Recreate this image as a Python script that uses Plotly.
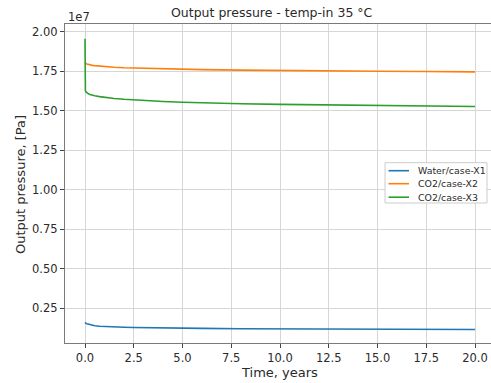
import plotly.graph_objects as go

# ---- data ----
time_years = [0, 0.005, 0.02, 0.05, 0.1, 0.175, 0.25, 0.375, 0.5, 0.75, 1, 1.25, 1.5,
              2, 2.5, 3, 4, 5, 6, 8, 10, 12.5, 15, 17.5, 20]

water_x1 = [0.160e7, 0.159e7, 0.157e7, 0.154e7, 0.151e7, 0.148e7, 0.145e7, 0.142e7, 0.139e7,
            0.136e7, 0.134e7, 0.1325e7, 0.131e7, 0.129e7, 0.1275e7, 0.126e7, 0.124e7, 0.123e7,
            0.122e7, 0.120e7, 0.119e7, 0.118e7, 0.117e7, 0.116e7, 0.115e7]
co2_x2 = [1.808e7, 1.805e7, 1.801e7, 1.798e7, 1.795e7, 1.792e7, 1.790e7, 1.787e7, 1.785e7,
          1.782e7, 1.779e7, 1.777e7, 1.775e7, 1.772e7, 1.770e7, 1.768e7, 1.765e7, 1.762e7,
          1.760e7, 1.757e7, 1.754e7, 1.752e7, 1.750e7, 1.748e7, 1.746e7]
co2_x3 = [1.955e7, 1.635e7, 1.626e7, 1.619e7, 1.612e7, 1.607e7, 1.603e7, 1.598e7, 1.594e7,
          1.589e7, 1.584e7, 1.580e7, 1.577e7, 1.572e7, 1.568e7, 1.564e7, 1.558e7, 1.553e7,
          1.549e7, 1.544e7, 1.540e7, 1.536e7, 1.533e7, 1.530e7, 1.527e7]

series_names = ["Water/case-X1", "CO2/case-X2", "CO2/case-X3"]
series_values = [water_x1, co2_x2, co2_x3]
series_colors = ["#1f77b4", "#ff7f0e", "#2ca02c"]

xtick_values = [0, 2.5, 5, 7.5, 10, 12.5, 15, 17.5, 20]
xtick_labels = ["0.0", "2.5", "5.0", "7.5", "10.0", "12.5", "15.0", "17.5", "20.0"]
ytick_values = [0.25e7, 0.50e7, 0.75e7, 1.00e7, 1.25e7, 1.50e7, 1.75e7, 2.00e7]
ytick_labels = ["0.25", "0.50", "0.75", "1.00", "1.25", "1.50", "1.75", "2.00"]

title_text = "Output pressure - temp-in 35 °C"
xlabel = "Time, years"
ylabel = "Output pressure, [Pa]"

# ---- figure ----
W, H = 491, 383
ML, MR, MT, MB = 65, 0, 24, 40
PW, PH = W - ML - MR, H - MT - MB

def px_x(p):
    return (p - ML) / PW

def px_y(p):
    return 1 - (p - MT) / PH

TXT = "#2a2a2a"
FONT = "DejaVu Sans"

fig = go.Figure()
for name, vals, col in zip(series_names, series_values, series_colors):
    fig.add_trace(go.Scatter(x=time_years, y=vals, name=name, mode="lines",
                             line=dict(color=col, width=1.6), showlegend=False))

axis_common = dict(showgrid=True, gridcolor="#d6d6d6", gridwidth=1.2, zeroline=False,
                   showline=True, linecolor="#7a7a7a", linewidth=1.2,
                   ticks="outside", ticklen=4, tickwidth=1, tickcolor="#444444",
                   tickfont=dict(family=FONT, size=11.5, color=TXT))

fig.update_xaxes(range=[-1.026, 20.82], tickvals=xtick_values, ticktext=xtick_labels,
                 mirror=True, **axis_common)
fig.update_yaxes(range=[0.0297e7, 2.0487e7], tickvals=ytick_values, ticktext=ytick_labels,
                 **axis_common)

annotations = [
    dict(text=title_text, x=px_x(272), y=px_y(12), xref="paper", yref="paper",
         showarrow=False, xanchor="center", yanchor="middle",
         font=dict(family=FONT, size=12.5, color=TXT)),
    dict(text=xlabel, x=px_x(279), y=px_y(372), xref="paper", yref="paper",
         showarrow=False, xanchor="center", yanchor="middle",
         font=dict(family=FONT, size=13, color=TXT)),
    dict(text=ylabel, x=px_x(20), y=px_y(185), xref="paper", yref="paper",
         showarrow=False, xanchor="center", yanchor="middle", textangle=-90,
         font=dict(family=FONT, size=13, color=TXT)),
    dict(text="1e7", x=px_x(66), y=px_y(17.5), xref="paper", yref="paper",
         showarrow=False, xanchor="left", yanchor="middle",
         font=dict(family=FONT, size=11.5, color=TXT)),
]

# manual legend (matplotlib style compact box)
shapes = [dict(type="rect", xref="paper", yref="paper",
               x0=px_x(385), x1=px_x(487), y0=px_y(203), y1=px_y(162.7),
               line=dict(color="#cccccc", width=1), fillcolor="white", layer="above")]
entry_y = [170.7, 183.7, 197.2]
for name, col, ey in zip(series_names, series_colors, entry_y):
    shapes.append(dict(type="line", xref="paper", yref="paper",
                       x0=px_x(388.5), x1=px_x(409), y0=px_y(ey), y1=px_y(ey),
                       line=dict(color=col, width=1.6), layer="above"))
    annotations.append(dict(text=name, x=px_x(415.5), y=px_y(ey), xref="paper", yref="paper",
                            showarrow=False, xanchor="left", yanchor="middle",
                            font=dict(family=FONT, size=9.4, color=TXT)))

fig.update_layout(width=W, height=H, margin=dict(l=ML, r=MR, t=MT, b=MB, pad=0),
                  paper_bgcolor="white", plot_bgcolor="white",
                  annotations=annotations, shapes=shapes, showlegend=False)

fig.write_html("out.html")
